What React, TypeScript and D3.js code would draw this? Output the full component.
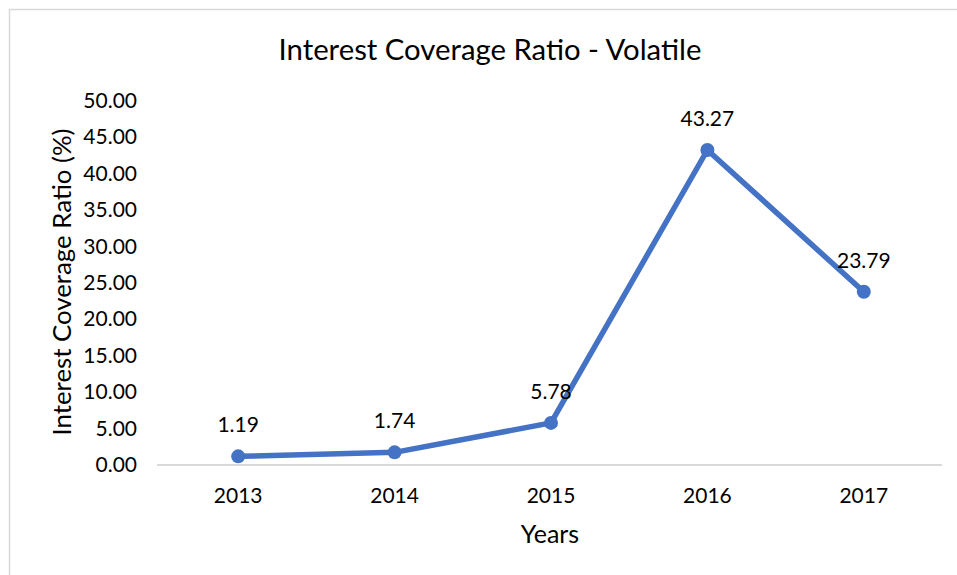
import React from "react";
import * as d3 from "d3";

const years = ["2013", "2014", "2015", "2016", "2017"];
const values = [1.19, 1.74, 5.78, 43.27, 23.79];
const yTicks = [0, 5, 10, 15, 20, 25, 30, 35, 40, 45, 50];
const title = "Interest Coverage Ratio - Volatile";
const xTitle = "Years";
const yTitle = "Interest Coverage Ratio (%)";

const W = 957;
const H = 575;
const FONT = "Lato, 'Open Sans', sans-serif";

export default function App() {
  const x = d3.scaleBand<string>().domain(years).range([160, 942]);
  const y = d3.scaleLinear().domain([0, 50]).range([465, 101]);
  const cx = (d: string) => (x(d) ?? 0) + x.bandwidth() / 2;
  const line = d3
    .line<number>()
    .x((_, i) => cx(years[i]))
    .y((d) => y(d));

  return (
    <svg
      width={W}
      height={H}
      style={{ position: "absolute", left: 0, top: 0, background: "#fff" }}
      fontFamily={FONT}
    >
      <rect x={0} y={0} width={W} height={H} fill="#fff" />
      <rect x={9.5} y={9.5} width={W + 20} height={H + 20} fill="none" stroke="#d9d9d9" strokeWidth={1.5} />
      <text x={490} y={60} textAnchor="middle" fontSize={29.3} fill="#000">
        {title}
      </text>
      {yTicks.map((t) => (
        <text key={t} x={137} y={y(t) + 7} textAnchor="end" fontSize={21} fill="#000">
          {t.toFixed(2)}
        </text>
      ))}
      <line x1={157} x2={942} y1={y(0)} y2={y(0)} stroke="#d9d9d9" strokeWidth={2} />
      {years.map((yr) => (
        <text key={yr} x={cx(yr)} y={503} textAnchor="middle" fontSize={21} fill="#000">
          {yr}
        </text>
      ))}
      <text x={550} y={543} textAnchor="middle" fontSize={25} fill="#000">
        {xTitle}
      </text>
      <text
        transform={`translate(71, ${(y(0) + y(50)) / 2 - 1}) rotate(-90)`}
        textAnchor="middle"
        fontSize={25.8}
        fill="#000"
      >
        {yTitle}
      </text>
      <path d={line(values) ?? ""} fill="none" stroke="#4472C4" strokeWidth={5.5} strokeLinejoin="round" />
      {values.map((v, i) => (
        <circle key={i} cx={cx(years[i])} cy={y(v)} r={7} fill="#4472C4" />
      ))}
      {values.map((v, i) => (
        <text key={i} x={cx(years[i])} y={y(v) - 24} textAnchor="middle" fontSize={21} fill="#000">
          {v.toFixed(2)}
        </text>
      ))}
    </svg>
  );
}
